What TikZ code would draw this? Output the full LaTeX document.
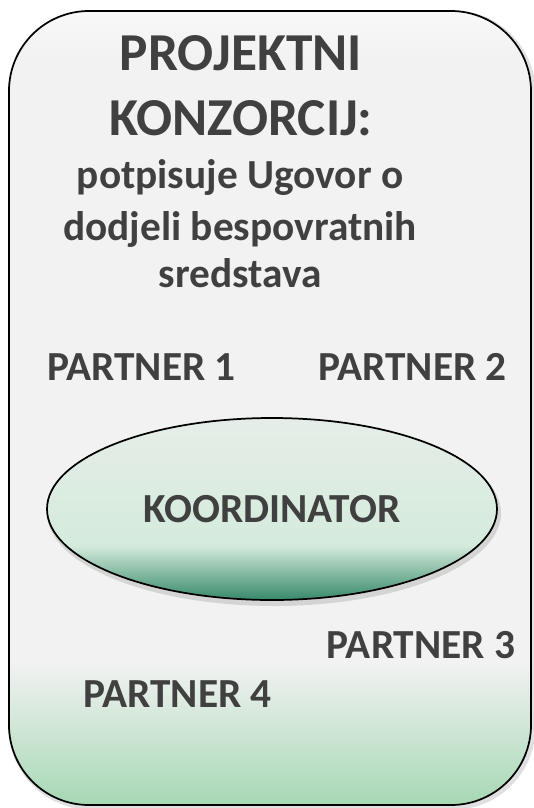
\documentclass[tikz,border=0pt]{standalone}
\usepackage{fontspec}
\setmainfont{Carlito}
\usetikzlibrary{shapes.geometric}
\definecolor{txt}{RGB}{64,64,64}
\definecolor{boxtop}{RGB}{248,248,248}
\definecolor{boxmid}{RGB}{242,242,242}
\definecolor{boxbot}{RGB}{166,216,180}
\definecolor{elltop}{RGB}{230,237,232}
\definecolor{ellmid}{RGB}{212,235,220}
\definecolor{ellbot}{RGB}{55,137,106}
\pgfdeclareverticalshading{boxshade}{100bp}{color(0bp)=(boxbot); color(25bp)=(boxbot); color(34bp)=(boxmid); color(72bp)=(boxmid); color(75bp)=(boxtop); color(100bp)=(boxtop)}
\pgfdeclareverticalshading{ellshade}{100bp}{color(0bp)=(ellbot); color(25bp)=(ellbot); color(40bp)=(ellmid); color(75bp)=(elltop); color(100bp)=(elltop)}
\tikzset{
  lbl/.style={text=txt, font=\bfseries, anchor=base, inner sep=0pt},
  big/.style={lbl, font=\fontsize{40}{42}\selectfont\bfseries},
  mid/.style={lbl, font=\fontsize{31}{34}\selectfont\bfseries},
  part/.style={lbl, font=\fontsize{31}{34}\selectfont\bfseries},
}
\begin{document}
\begin{tikzpicture}[x=0.75pt, y=-0.75pt]
\useasboundingbox (0,0) rectangle (533,808);
% box shadow
\draw[black, opacity=0.12, line width=4pt, rounded corners=60pt] (11,13) rectangle (533,807);
\shade[shading=boxshade, draw=black, line width=1.3pt, rounded corners=60pt] (9,11) rectangle (531,805);
% title texts
\node[big] (t1) at (241,70) {PROJEKTNI};
\node[big] (t2) at (241,135) {KONZORCIJ:};
\node[mid] (t3) at (240,188) {potpisuje Ugovor o};
\node[mid] (t4) at (240,240) {dodjeli bespovratnih};
\node[mid] (t5) at (240,287) {sredstava};
% partners
\node[part] (p1) at (141.5,380) {PARTNER 1};
\node[part] (p2) at (412.5,380) {PARTNER 2};
\node[part] (p3) at (421,658) {PARTNER 3};
\node[part] (p4) at (177.5,707) {PARTNER 4};
% coordinator ellipse
\fill[black, opacity=0.12] (274,513) ellipse [x radius=227, y radius=93];
\node[ellipse, draw=black, line width=1.3pt, shading=ellshade, minimum width=337.5pt, minimum height=136.5pt, inner sep=0pt, text=txt, font=\fontsize{31}{34}\selectfont\bfseries] (koord) at (272,509) {KOORDINATOR};
\end{tikzpicture}
\end{document}
